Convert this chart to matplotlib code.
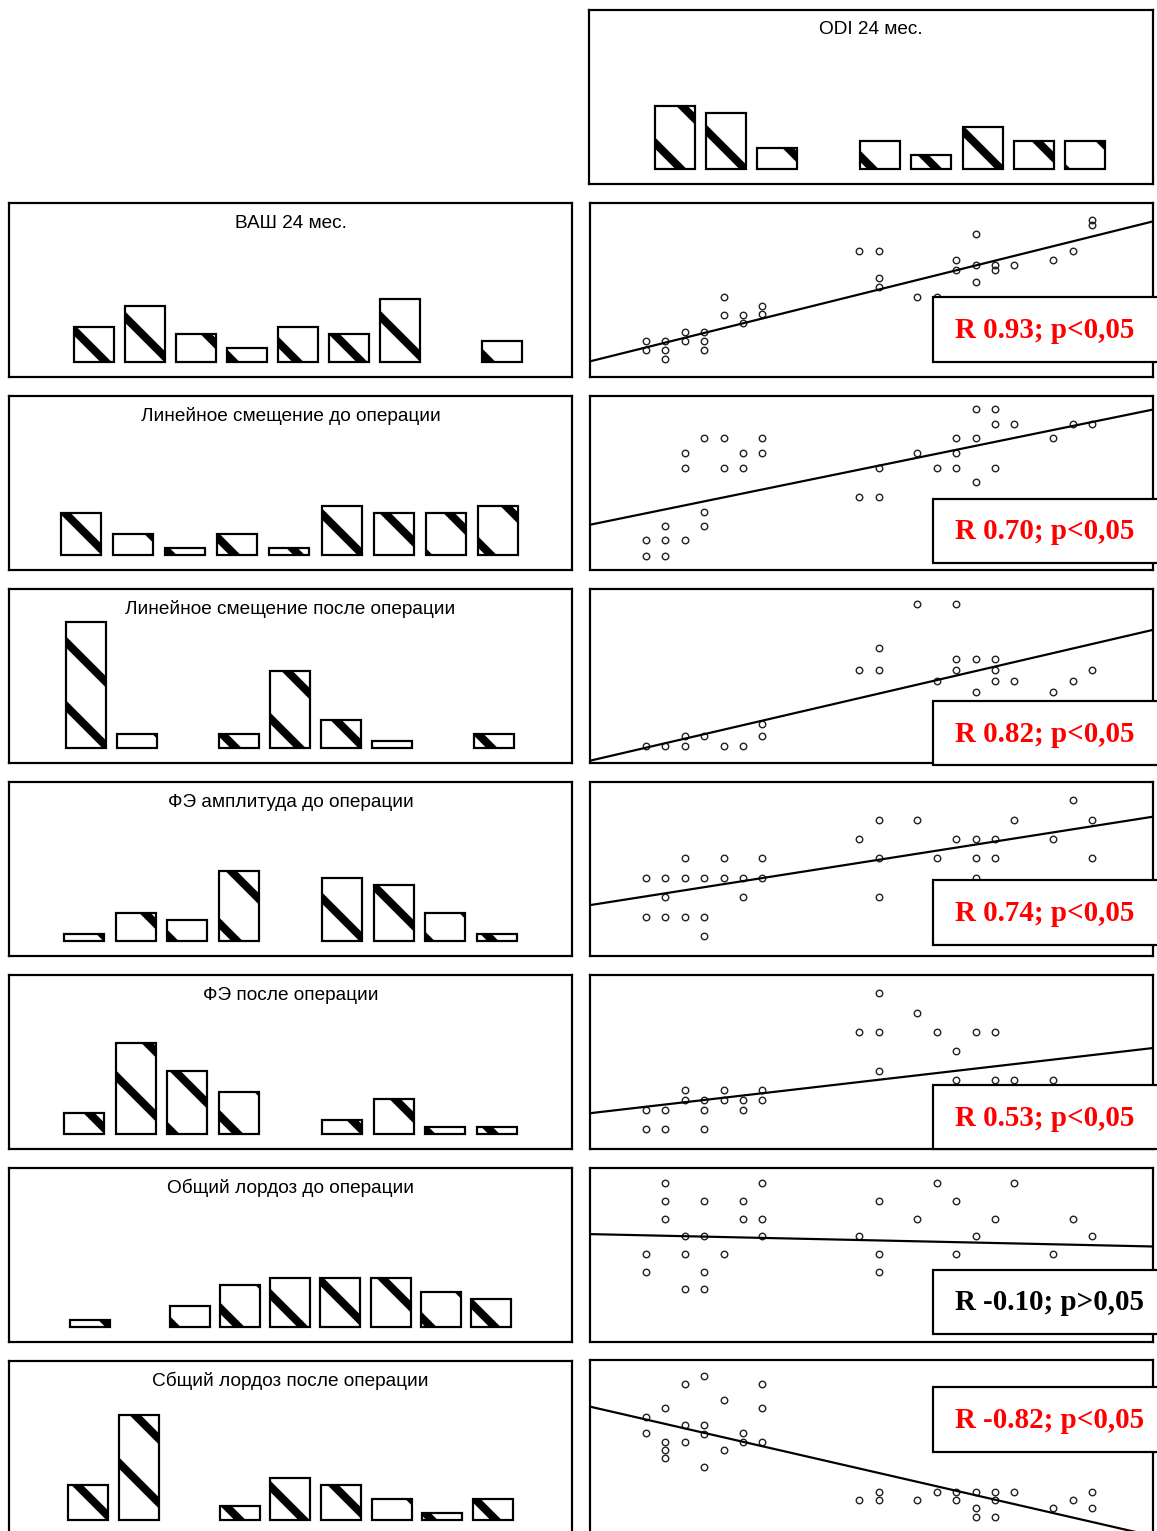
import numpy as np
import matplotlib
matplotlib.use("Agg")
import matplotlib.pyplot as plt
from matplotlib.patches import Rectangle

DPI = 384
W, H = 1157, 1531
P = 72.0 / DPI  # points per pixel

plt.rcParams['hatch.linewidth'] = 8 * P
plt.rcParams['hatch.color'] = 'black'
plt.rcParams['font.family'] = ['Liberation Sans', 'DejaVu Sans']

# ---------------- data ----------------
bins = np.arange(9)

odi_title = "ODI 24 мес."
odi_counts = [9, 8, 3, 0, 4, 2, 6, 4, 4]

hist_titles = ["ВАШ 24 мес.",
               "Линейное смещение до операции",
               "Линейное смещение после операции",
               "ФЭ амплитуда до операции",
               "ФЭ после операции",
               "Общий лордоз до операции",
               "Сбщий лордоз после операции"]
vas_counts = [5, 8, 4, 2, 5, 4, 9, 0, 3]
lin_pre_counts = [6, 3, 1, 3, 1, 7, 6, 6, 7]
lin_post_counts = [18, 2, 0, 2, 11, 4, 1, 0, 2]
fe_amp_pre_counts = [1, 4, 3, 10, 0, 9, 8, 4, 1]
fe_post_counts = [3, 13, 9, 6, 0, 2, 5, 1, 1]
lord_pre_counts = [1, 0, 3, 6, 7, 7, 7, 5, 4]
lord_post_counts = [5, 15, 0, 2, 6, 5, 3, 1, 3]

# scatter data: x = ODI class index, y = parameter (relative scale 0-100)
sc1_x = [0, 0, 1, 1, 1, 2, 2, 3, 3, 3, 4, 4, 5, 5, 6, 6, 11, 12, 12, 12, 14, 15,
         16, 16, 17, 17, 17, 18, 18, 19, 21, 22, 23, 23]
sc1_y = [20.5, 15.5, 20.5, 15.5, 10.5, 25.9, 20.5, 25.9, 20.5, 15.5, 46.2, 35.8,
         35.8, 30.8, 41.0, 36.4, 72.2, 72.2, 56.9, 51.7, 46.2, 46.2, 67.0, 61.7,
         82.4, 64.6, 54.4, 64.6, 61.7, 64.6, 67.0, 72.2, 90.0, 87.5]

sc2_x = [0, 0, 1, 1, 1, 2, 2, 2, 3, 3, 3, 4, 4, 5, 5, 6, 6, 11, 12, 12, 14, 15,
         16, 16, 16, 17, 17, 17, 18, 18, 18, 19, 21, 22, 23]
sc2_y = [17.0, 8.3, 25.2, 17.0, 8.3, 67.2, 58.8, 17.0, 75.7, 33.5, 25.2, 75.7,
         58.8, 67.2, 58.8, 75.7, 67.2, 41.8, 58.8, 41.8, 67.2, 58.8, 75.7, 67.2,
         58.8, 92.5, 75.7, 50.5, 92.5, 84.0, 58.8, 84.0, 75.7, 84.0, 84.0]

sc3_x = [0, 1, 2, 2, 3, 4, 5, 6, 6, 11, 12, 12, 14, 15, 16, 16, 16, 17, 17,
         18, 18, 18, 19, 21, 22, 23]
sc3_y = [9.6, 9.6, 15.8, 9.6, 15.8, 9.6, 9.6, 22.2, 15.8, 53.6, 66.3, 53.6, 91.5,
         47.2, 91.5, 59.7, 53.6, 59.7, 41.0, 59.7, 53.6, 47.2, 47.2, 41.0, 47.2, 53.6]

sc4_x = [0, 0, 1, 1, 1, 2, 2, 2, 3, 3, 3, 4, 4, 5, 5, 6, 6, 11, 12, 12, 12, 14,
         15, 16, 17, 17, 17, 18, 18, 19, 21, 22, 23, 23]
sc4_y = [44.9, 22.5, 44.9, 33.7, 22.5, 56.1, 44.9, 22.5, 44.9, 22.5, 11.4, 56.1,
         44.9, 44.9, 33.7, 56.1, 44.9, 67.2, 78.4, 56.1, 33.7, 78.4, 56.1, 67.2,
         67.2, 56.1, 44.9, 67.2, 56.1, 78.4, 67.2, 89.6, 78.4, 56.1]

sc5_x = [0, 0, 1, 1, 2, 2, 3, 3, 3, 4, 4, 5, 5, 6, 6, 11, 12, 12, 12, 14, 15,
         16, 16, 17, 18, 18, 19, 21]
sc5_y = [22.5, 11.4, 22.5, 11.4, 33.7, 28.3, 28.3, 22.5, 11.4, 33.7, 28.3, 28.3,
         22.5, 33.7, 28.3, 67.2, 89.6, 67.2, 44.9, 78.4, 67.2, 56.1, 39.5, 67.2,
         67.2, 39.5, 39.5, 39.5]

sc6_x = [0, 0, 1, 1, 1, 2, 2, 2, 3, 3, 3, 3, 4, 5, 5, 6, 6, 6, 11, 12, 12, 12,
         14, 15, 16, 16, 17, 18, 19, 21, 22, 23]
sc6_y = [50.7, 40.3, 91.1, 81.3, 70.7, 61.1, 50.7, 30.3, 81.3, 61.1, 40.3, 30.3,
         50.7, 81.3, 70.7, 91.1, 70.7, 61.1, 61.1, 81.3, 50.7, 40.3, 70.7, 91.1,
         81.3, 50.7, 61.1, 70.7, 91.1, 50.7, 70.7, 61.1]

sc7_x = [0, 0, 1, 1, 1, 1, 2, 2, 2, 3, 3, 3, 3, 4, 4, 5, 5, 6, 6, 6, 11, 12, 12,
         14, 15, 16, 16, 17, 17, 17, 18, 18, 18, 19, 21, 22, 23, 23]
sc7_y = [67.4, 57.9, 72.2, 53.1, 48.3, 43.5, 86.2, 62.6, 53.1, 91.0, 62.6, 57.5,
         38.7, 76.8, 48.3, 57.9, 53.1, 86.2, 72.2, 53.1, 19.3, 24.3, 19.3, 19.3,
         24.3, 24.3, 19.3, 24.3, 14.8, 10.0, 24.3, 19.3, 10.0, 24.3, 14.8, 19.3,
         24.3, 14.8]

# regression lines: intercept, slope
fit_intercepts = [17.0, 32.6, 8.8, 34.3, 24.3, 61.3, 65.8]
fit_slopes = [2.77, 2.28, 2.59, 1.75, 1.29, -0.245, -2.56]

r_labels = ["R 0.93; p<0,05", "R 0.70; p<0,05", "R 0.82; p<0,05",
            "R 0.74; p<0,05", "R 0.53; p<0,05", "R -0.10; p>0,05",
            "R -0.82; p<0,05"]
r_colors = ['#ff0000', '#ff0000', '#ff0000', '#ff0000', '#ff0000', 'black', '#ff0000']

hist_counts = [vas_counts, lin_pre_counts, lin_post_counts, fe_amp_pre_counts,
               fe_post_counts, lord_pre_counts, lord_post_counts]
sc_x = [sc1_x, sc2_x, sc3_x, sc4_x, sc5_x, sc6_x, sc7_x]
sc_y = [sc1_y, sc2_y, sc3_y, sc4_y, sc5_y, sc6_y, sc7_y]

# ---------------- layout (pixels) ----------------
left_rows = [(203, 377), (396, 570), (589, 763), (782, 956), (975, 1149),
             (1168, 1342), (1361, 1535)]
right_rows = [(203, 377), (396, 570), (589, 763), (782, 956), (975, 1149),
              (1168, 1342), (1360, 1534)]
box_rows = [(297, 362), (499, 563), (701, 765), (880, 945), (1085, 1149),
            (1270, 1334), (1387, 1452)]
hist_first = [(94, 51.0), (81, 52.1), (86, 51.0), (84, 51.6), (84, 51.6),
              (90, 50.1), (88, 50.6)]

fig = plt.figure(figsize=(W / DPI, H / DPI), dpi=DPI, facecolor='white')


def add_ax(x0, y0, x1, y1):
    ax = fig.add_axes([x0 / W, 1 - y1 / H, (x1 - x0) / W, (y1 - y0) / H])
    ax.set_xticks([])
    ax.set_yticks([])
    for sp in ax.spines.values():
        sp.set_linewidth(2.2 * P)
        sp.set_color('black')
    return ax


def hist_panel(x0, x1, y0, y1, counts, c0, s, title):
    ax = add_ax(x0, y0, x1, y1)
    counts = np.asarray(counts)
    keep = counts > 0
    ax.bar(bins[keep], counts[keep], width=40 / s, color='white',
           edgecolor='black', linewidth=2.2 * P, hatch='\\\\')
    ax.set_xlim((x0 - c0) / s, (x1 - c0) / s)
    ax.set_ylim(-15 / 7, (y1 - y0 - 15) / 7)
    ax.text(0.5, 1 - 20 / (y1 - y0), title, transform=ax.transAxes,
            ha='center', va='center', fontsize=19 * P, color='black')
    return ax


# ODI histogram (top right)
hist_panel(589, 1153, 10, 184, odi_counts, 675, 51.25, odi_title)

# left histograms
for i in range(7):
    y0, y1 = left_rows[i]
    c0, s = hist_first[i]
    hist_panel(9, 572, y0, y1, hist_counts[i], c0, s, hist_titles[i])

# scatter panels
xlims = np.array([(590 - 646) / 19.39, (1153 - 646) / 19.39])
for i in range(7):
    y0, y1 = right_rows[i]
    ax = add_ax(590, y0, 1153, y1)
    ax.plot(sc_x[i], sc_y[i], 'o', ms=6.5 * P, mfc='none', mec='#222222',
            mew=1.4 * P)
    ax.plot(xlims, fit_intercepts[i] + fit_slopes[i] * xlims, color='black',
            lw=2.2 * P)
    ax.set_xlim(*xlims)
    ax.set_ylim(0, 100)

    b0, b1 = box_rows[i]
    fig.add_artist(Rectangle((933 / W, 1 - b1 / H), (1175 - 933) / W,
                             (b1 - b0) / H, transform=fig.transFigure,
                             facecolor='white', edgecolor='black',
                             lw=2.2 * P, zorder=5))
    fig.text(955 / W, 1 - ((b0 + b1) / 2 + 1) / H, r_labels[i],
             color=r_colors[i], fontsize=29 * P, fontweight='bold',
             family=['Liberation Serif', 'DejaVu Serif'],
             ha='left', va='center', zorder=6)

fig.savefig("out.png", dpi=DPI, facecolor='white')
